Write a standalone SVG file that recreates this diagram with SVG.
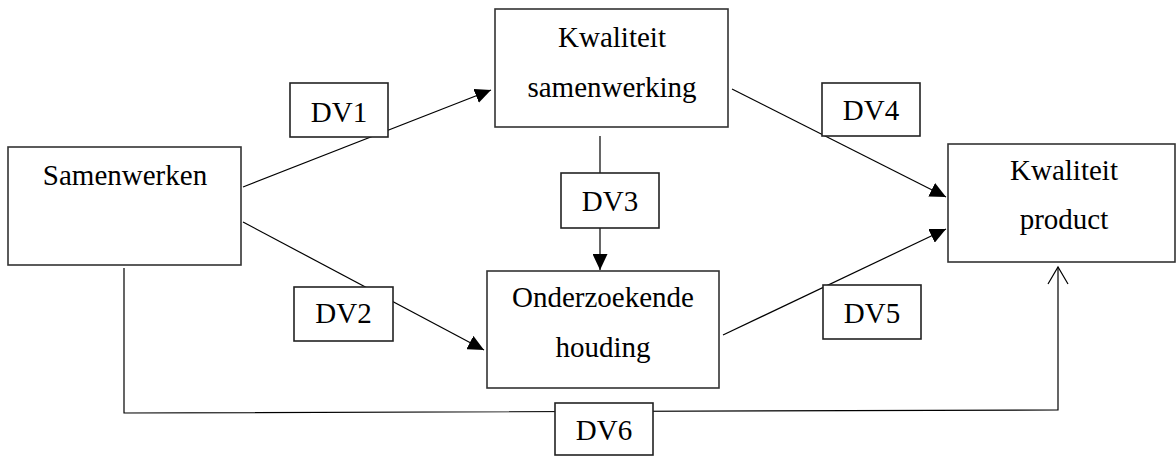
<svg xmlns="http://www.w3.org/2000/svg" width="1176" height="457" viewBox="0 0 1176 457">
<style>
.box{fill:#fff;stroke:#333;stroke-width:1.6}
.lbl{fill:#fff;stroke:#222;stroke-width:1.6}
text{font-family:'Liberation Serif','DejaVu Serif',serif;font-size:29px;fill:#000;text-anchor:middle}
.ln{fill:none;stroke:#000;stroke-width:1.2}
</style>
<defs>
<marker id="ah" markerUnits="userSpaceOnUse" markerWidth="16" markerHeight="15" refX="16" refY="7.5" orient="auto">
<path d="M0,0 L16,7.5 L0,15 z" fill="#000"/>
</marker>
</defs>
<rect width="1176" height="457" fill="#fff"/>
<g id="connectors">
<line class="ln" x1="243" y1="187" x2="491" y2="90" marker-end="url(#ah)"/>
<line class="ln" x1="243" y1="222" x2="484" y2="350" marker-end="url(#ah)"/>
<line class="ln" x1="600" y1="136" x2="600" y2="270" marker-end="url(#ah)"/>
<line class="ln" x1="732" y1="89" x2="946" y2="197" marker-end="url(#ah)"/>
<line class="ln" x1="723" y1="335" x2="946" y2="229" marker-end="url(#ah)"/>
<polyline class="ln" points="124,268 124,413 1058,410 1058,267"/>
<polyline class="ln" points="1048,284 1058,267 1068,284"/>
</g>
<g id="samenwerken">
<rect class="box" x="8" y="147" width="233" height="118"/>
<text x="125" y="185" font-family="Liberation Serif, serif">Samenwerken</text>
</g>
<g id="kwaliteit-samenwerking">
<rect class="box" x="495" y="9" width="233" height="118"/>
<text x="612" y="47" font-family="Liberation Serif, serif">Kwaliteit</text>
<text x="612" y="97" font-family="Liberation Serif, serif">samenwerking</text>
</g>
<g id="onderzoekende-houding">
<rect class="box" x="487" y="271" width="232" height="117"/>
<text x="603" y="307" font-family="Liberation Serif, serif">Onderzoekende</text>
<text x="603" y="357" font-family="Liberation Serif, serif">houding</text>
</g>
<g id="kwaliteit-product">
<rect class="box" x="948" y="144" width="227" height="118"/>
<text x="1064" y="180" font-family="Liberation Serif, serif">Kwaliteit</text>
<text x="1064" y="229" font-family="Liberation Serif, serif">product</text>
</g>
<g id="dv1">
<rect class="lbl" x="290" y="83" width="98" height="54"/>
<text x="339" y="122" font-family="Liberation Serif, serif">DV1</text>
</g>
<g id="dv2">
<rect class="lbl" x="294" y="287" width="99" height="54"/>
<text x="343.5" y="323" font-family="Liberation Serif, serif">DV2</text>
</g>
<g id="dv3">
<rect class="lbl" x="561" y="173" width="98" height="55"/>
<text x="610" y="211" font-family="Liberation Serif, serif">DV3</text>
</g>
<g id="dv4">
<rect class="lbl" x="822" y="83" width="98" height="53"/>
<text x="871" y="120" font-family="Liberation Serif, serif">DV4</text>
</g>
<g id="dv5">
<rect class="lbl" x="823" y="285" width="98" height="54"/>
<text x="872" y="323" font-family="Liberation Serif, serif">DV5</text>
</g>
<g id="dv6">
<rect class="lbl" x="555" y="403" width="98" height="52"/>
<text x="604" y="440" font-family="Liberation Serif, serif">DV6</text>
</g>
</svg>
